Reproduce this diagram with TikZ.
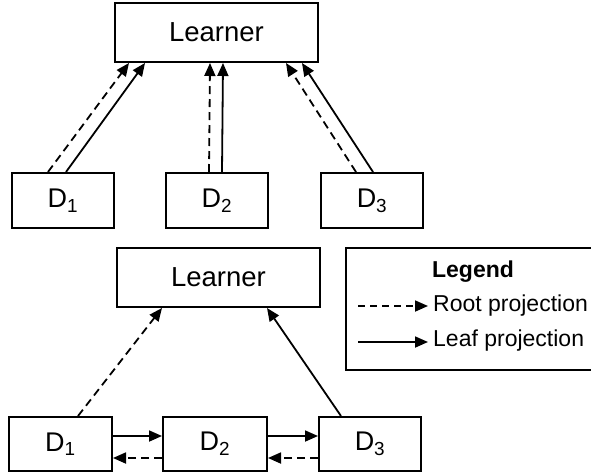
\documentclass[tikz,border=0pt]{standalone}
\usepackage{fontspec}
\setmainfont{Liberation Sans}
\usetikzlibrary{arrows.meta}
\begin{document}
\begin{tikzpicture}[x=1pt,y=-1pt,
  box/.style={draw,line width=2pt,inner sep=0pt,minimum width=102pt,minimum height=55pt,font=\fontsize{27}{31}\selectfont},
  lbox/.style={draw,line width=2pt,inner sep=0pt,minimum width=203pt,minimum height=59pt,font=\fontsize{27.5}{32}\selectfont},
  conn/.style={line width=1.8pt,-{Triangle[length=13pt,width=11pt]}},
  dconn/.style={conn,dash pattern=on 8pt off 5pt},
  ltext/.style={anchor=west,inner sep=0pt,font=\fontsize{23}{27}\selectfont}]
\useasboundingbox (0,0) rectangle (591,474);
% top diagram
\node[lbox] (L1) at (216.5,32.5) {Learner};
\node[box] (t1) at (63,200.5) {D\textsubscript{1}};
\node[box] (t2) at (217,200.5) {D\textsubscript{2}};
\node[box] (t3) at (372,200.5) {D\textsubscript{3}};
\draw[dconn] ([xshift=37pt]t1.north west) -- ([xshift=15pt]L1.south west);
\draw[conn] ([xshift=55pt]t1.north west) -- ([xshift=31pt]L1.south west);
\draw[dconn] ([xshift=44pt]t2.north west) -- ([xshift=96pt]L1.south west);
\draw[conn] ([xshift=57pt]t2.north west) -- ([xshift=109pt]L1.south west);
\draw[dconn] ([xshift=36pt]t3.north west) -- ([xshift=172pt]L1.south west);
\draw[conn] ([xshift=53pt]t3.north west) -- ([xshift=188pt]L1.south west);
% bottom diagram
\node[lbox] (L2) at (218.5,277.5) {Learner};
\node[box,minimum width=103pt,minimum height=54pt] (b1) at (60.5,444) {D\textsubscript{1}};
\node[box,minimum width=104pt,minimum height=54pt] (b2) at (215,444) {D\textsubscript{2}};
\node[box,minimum height=54pt] (b3) at (370,444) {D\textsubscript{3}};
\draw[dconn] ([xshift=70pt]b1.north west) -- ([xshift=46pt]L2.south west);
\draw[conn] ([xshift=23pt]b3.north west) -- ([xshift=151pt]L2.south west);
\draw[conn] ([yshift=8pt]b1.east) -- ([yshift=8pt]b2.west);
\draw[conn] ([yshift=8pt]b2.east) -- ([yshift=8pt]b3.west);
\draw[dconn] ([yshift=-14pt]b2.west) -- ([yshift=-14pt]b1.east);
\draw[dconn] ([yshift=-14pt]b3.west) -- ([yshift=-14pt]b2.east);
% legend
\node[draw,line width=2pt,inner sep=0pt,minimum width=274pt,minimum height=122pt] (leg) at (483,309) {};
\node[inner sep=0pt,font=\bfseries\fontsize{23}{27}\selectfont] (legt) at (473,272) {Legend};
\coordinate (r1) at (358,306);
\coordinate (r2) at (428,306);
\coordinate (f1) at (358,342);
\coordinate (f2) at (428,342);
\draw[conn,dash pattern=on 7pt off 5pt] (r1) -- (r2);
\draw[conn] (f1) -- (f2);
\node[ltext] (rt) at (433,306) {Root projection};
\node[ltext] (ft) at (433,341) {Leaf projection};
\end{tikzpicture}
\end{document}
